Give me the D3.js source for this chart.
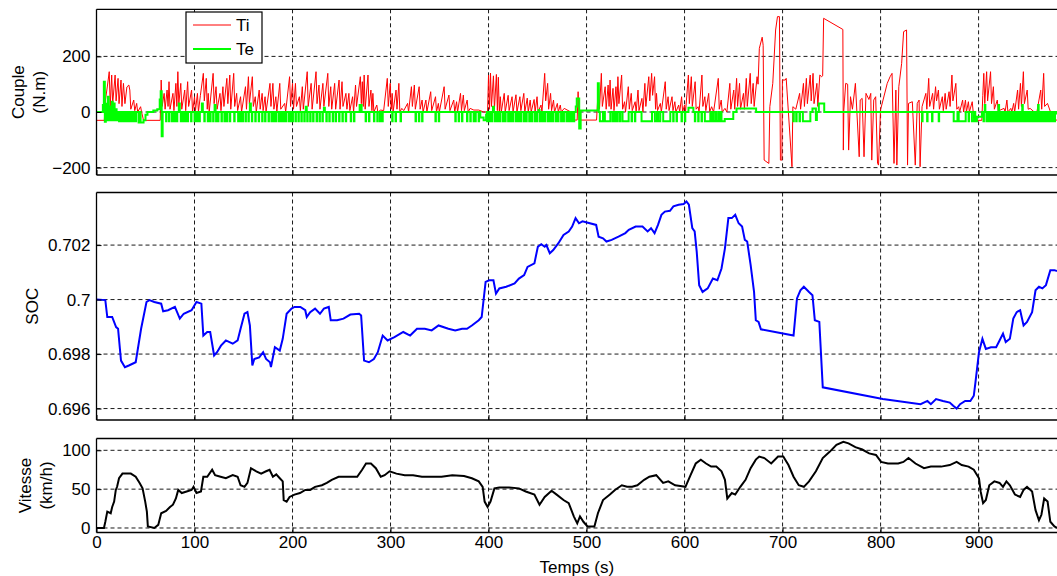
<!DOCTYPE html>
<html><head><meta charset="utf-8">
<script src="https://cdn.jsdelivr.net/npm/d3@7/dist/d3.min.js"></script>
<style>
body{margin:0;background:#fff}
svg{display:block}
text{font-family:"Liberation Sans",Arial,Helvetica,sans-serif;fill:#000}
</style>
</head><body>
<svg id="chart" width="1057" height="576"></svg>
<script>
// ---------------- DATA ----------------
const xTickValues = [0,100,200,300,400,500,600,700,800,900];
const coupleTicks = [-200,0,200];
const socTicks = [0.696,0.698,0.7,0.702];
const speedTicks = [0,50,100];
const legendNames = ["Ti","Te"];

// Ti (N.m) : [time s, torque]
const tiSeries = [[0,-30],[8,-30],[9,40],[11,90],[13,145],[14,20],[15.5,133],[16.5,30],[19,133],[20,40],[22,121],[23,30],[25,115],[26,20],[27.5,103],[29,30],[31,90],[33,97],[34,79],[35,10],[38,43],[39,5],[41,31],[42,0],[45,19],[46,0],[48,-30],[65,-30],[66,115],[67,20],[69,67],[70,10],[72,79],[73,20],[74,109],[75,10],[78,67],[79,5],[81,103],[82,20],[83,145],[84,30],[86,103],[87,10],[90,79],[91,5],[93,109],[94,20],[97,79],[98,0],[100,55],[101,5],[103,67],[104,0],[106,60],[109,139],[110,40],[112,121],[113,10],[114,67],[115,0],[119,139],[120,30],[122,91],[123,10],[126,67],[127,5],[129,91],[130,20],[133,121],[134,30],[136,133],[137,10],[140,139],[141,20],[143,67],[144,5],[147,55],[148,0],[152,91],[153,10],[155,127],[156,30],[159,127],[160,20],[162,55],[163,0],[166,79],[167,10],[169,67],[170,5],[172,55],[173,0],[177,103],[178,20],[180,103],[181,10],[183,55],[184,0],[187,103],[188,10],[192,31],[193,0],[197,127],[198,20],[200,103],[201,10],[203,103],[204,20],[207,55],[208,5],[210,91],[211,10],[215,145],[216,20],[219,103],[220,10],[224,145],[225,30],[227,97],[228,10],[231,103],[232,20],[236,139],[237,20],[239,91],[240,10],[243,103],[244,10],[247.5,115],[248.5,10],[250.5,109],[251.5,20],[254.5,67],[255.5,10],[257.5,67],[258.5,5],[261.3,55],[262.3,0],[264.3,97],[265.3,20],[269.2,127],[270.2,30],[271.2,109],[272.2,20],[273.1,133],[274.1,10],[277,133],[278,20],[280,79],[281,5],[282,67],[283,0],[286,25],[287,0],[290,7],[293,5],[296.7,121],[297.7,20],[299.7,103],[300.7,10],[301.7,67],[302.6,0],[305.6,79],[306.6,10],[308.5,103],[309.5,0],[311.5,13],[313.5,5],[317.4,31],[318.4,0],[321.3,91],[322.3,20],[324.3,97],[325.3,10],[329.2,91],[330.2,10],[332.2,43],[333.2,0],[336.1,43],[337.1,0],[341,73],[342,5],[345.9,55],[346.9,0],[348.8,31],[349.8,0],[354.7,91],[355.7,10],[359.6,61],[360.6,5],[364.5,43],[365.5,0],[367.4,37],[368.4,0],[371.4,67],[372.4,5],[374.3,61],[375.3,5],[378.2,43],[379.2,0],[381.2,13],[385,7],[390,7],[395,0],[399,0],[400,133],[401,10],[402,140],[403,20],[405,130],[406,10],[408,135],[409,5],[410,125],[411,0],[412,55],[413,0],[416,67],[417,0],[420,60],[421,5],[424,55],[425,0],[428,62],[429,0],[432,55],[433,5],[436,67],[437,0],[439.5,50],[440.5,0],[442.5,43],[443.5,0],[446.5,45],[447.5,0],[449.5,55],[450.5,0],[453.5,25],[454.5,0],[457.3,139],[458.3,40],[460.3,103],[461.3,10],[463.3,67],[464.3,5],[466.3,43],[467.3,0],[470.2,31],[471.2,0],[473.2,25],[474.2,0],[477.2,13],[484,0],[487,-29],[490.4,-29],[491.4,73],[492.4,-29],[510.2,-29],[512.2,103],[513.2,10],[515.1,139],[516.1,20],[519,91],[520,10],[522,97],[523,20],[524,115],[525,10],[527,85],[528,5],[530,91],[531,20],[532,127],[533,30],[535.8,133],[536.8,10],[538.8,37],[539.8,0],[542.6,91],[543.6,10],[545.6,67],[546.6,5],[549.6,37],[550.6,0],[552.5,79],[553.5,5],[556.5,49],[557.5,0],[559.5,103],[560.5,20],[563.5,127],[564.5,40],[566.4,139],[567.4,60],[569.4,127],[570.4,10],[571.4,67],[572.4,5],[575.3,31],[576.3,0],[580.3,109],[581.3,10],[583.2,55],[584.2,5],[587.2,55],[588.2,5],[590.1,37],[591.1,0],[594,25],[595,0],[597,55],[598,0],[600,25],[601,0],[603.9,133],[604.9,30],[606.9,127],[607.9,20],[610.8,109],[611.8,10],[613.8,19],[614.8,0],[617.7,133],[618.7,20],[620.7,55],[621.7,5],[624.6,67],[625.6,0],[627.6,19],[629.6,0],[634.4,121],[635.4,10],[637.4,43],[638.4,0],[641.2,13],[643.2,0],[646.2,103],[647.2,10],[650.2,79],[651.2,10],[653.1,121],[654.1,20],[656.1,103],[657.1,10],[660.1,67],[661.1,10],[663,121],[664,20],[667,139],[668,30],[670,103],[671,20],[674,127],[675,100],[676.3,229],[679.2,269],[680.2,240],[681.2,-173],[686,-185],[687,19],[690,103],[692.9,295],[694.8,343],[696.8,343],[697.8,-173],[699.3,-173],[699.8,115],[702.7,115],[703.7,121],[709.6,-197],[710.5,19],[713.5,10],[717.4,67],[718.4,10],[721.3,103],[722.3,20],[724.3,121],[725.3,30],[728.2,133],[729.2,40],[731.1,139],[732.1,30],[735,103],[736,20],[738,133],[739.9,127],[740.9,130],[741.9,337],[761.5,297],[762,-137],[762.5,7],[764.4,103],[766.4,100],[767.4,-137],[769.3,55],[771.3,10],[774.3,103],[778.2,-161],[779.2,43],[781.2,49],[783.1,-161],[785.1,67],[788.1,45],[790,67],[791,-173],[793,43],[795,55],[796.9,-185],[797.9,-191],[799.9,7],[803.8,61],[806.8,103],[809.7,127],[811.7,139],[813.7,-185],[815.6,79],[816.6,-191],[818.6,91],[821.5,175],[823.5,289],[826.5,295],[827.5,-191],[828.5,31],[832.4,37],[835.4,-191],[837.4,31],[839.3,43],[840.3,-197],[842.3,19],[846.2,67],[847.2,10],[849.1,121],[850.1,20],[853.1,67],[854.1,10],[856.1,91],[857.1,40],[859,79],[860,10],[863,55],[864,5],[865.9,67],[866.9,10],[869.9,73],[870.9,20],[872.8,133],[873.8,40],[876.8,103],[877.8,10],[879.7,19],[880.7,0],[883.7,43],[884.7,0],[886.6,43],[887.6,0],[889.6,37],[890.6,0],[893.5,37],[894.5,0],[896.5,1],[897.5,-30],[903.3,-30],[904.3,60],[905.3,139],[906.3,30],[908.2,145],[909.2,40],[912.2,145],[913.2,30],[915.1,91],[916.1,10],[919.1,43],[920.1,0],[922,7],[926,13],[927,0],[928.9,43],[929.9,0],[932.9,13],[933.9,0],[935.8,31],[936.8,0],[939.8,79],[940.8,10],[942.7,103],[943.7,20],[945.7,145],[946.7,30],[949.6,79],[950.6,10],[952.6,13],[956.5,1],[959.5,1],[963.4,79],[964.4,10],[966.4,139],[967.4,20],[970.3,31],[973.3,1],[974.3,-29],[981,-29]];

// Te (N.m): slow component, value holds from each time on
const teSteps = [[0,0],[6.5,25],[7.5,109],[8.5,-35],[9.5,30],[10.5,-30],[11.5,55],[12.5,-30],[13.5,20],[14.5,-30],[15.5,37],[16.5,-30],[17.5,31],[18.5,-30],[19.5,10],[20.5,-30],[21.5,0],[43,-38],[44,0],[45,-38],[48,-30],[50,-10],[52,0],[58,5],[62,10],[64.5,45],[65.5,75],[66.5,-87],[67.5,0],[84,31],[85,0],[107.5,31],[108.5,0],[120.5,25],[121.5,0],[156.5,31],[157.5,0],[213.5,19],[214.5,0],[232,15],[233,0],[268.5,25],[270.5,0],[391.6,-20],[395,-30],[397.5,-10],[398.3,0],[404.5,19],[405.5,0],[451,7],[452,0],[489,20],[490,49],[492.5,-59],[494,5],[511.5,103],[512.5,0],[604,15],[609,0],[641,-25],[649.7,0],[653,13],[673,0],[730.5,13],[734,-29],[735,0],[737,31],[742.5,0],[898.3,-17],[903.4,0],[906.3,25],[906.9,0],[920.3,25],[920.9,0],[944.5,25],[945.1,0],[960.7,25],[961.3,0],[979.5,-5]];
// Te short negative pulses: start times (s), level and duration
const teDipTimes = [23,25.5,28,30.5,33,35.5,38,40,71,74,77,79.5,82,86,88,90.5,93,96.5,100,102.5,105,110,113.5,116,119,122,124,127.5,130.5,133,136,140.5,144.5,147,149,152,155,158.5,162,165.5,169,172,175.5,178.5,181,183,186,188.5,191,193,196,198,200,203,206,209,212,215,218,221,224.5,227.5,230.5,234.5,237.5,241,244,247.5,250.9,254.3,259.4,262.7,274.6,278,283.1,286.5,289.2,291.6,301.7,305.1,310.2,325.5,328.9,332.2,345.8,349.2,366.1,369.5,372.9,378,381.4,384.8,386.5,389.9,398.5,401,403.5,406.5,409,411.5,414.5,417,420,422.5,425,428,430.5,433,436,438.5,441.5,444,447,449.5,452.5,455,457.5,460.5,463,465.5,468.5,471,474,476.5,479.5,482,484.5,487,513.6,516.3,518.7,521.1,523.8,526.5,528.9,531.3,534,536.7,539.1,542.5,545.9,549.3,556.1,561.2,566.3,569.7,571.4,573.1,574.8,578.2,581.6,585,588.4,591.8,596.9,600.3,610.5,613.9,617.3,620.7,624.1,625.8,627.5,629.2,630.9,632.6,634.3,636,637.7,711,713.9,717.3,720.7,724.1,727.9,842.4,847.5,852.5,859.3,874.6,878,879.7,883.1,886.4,889.8,893.2,894.9,896.6,905,908,910,912.5,914.5,917,919,921.5,923.5,926,928,930,932.5,934.5,937,939,941.5,943.5,946,948,950.5,952.5,955,957,959.5,962,964,966.5,968.5,971,973,975.5,977.5];
const teDipLevel = -33;
const teDipDuration = 0.45;

// SOC : [time s, state of charge]
const socSeries = [[0,0.7],[9,0.69998],[11,0.69936],[16,0.69936],[20,0.69899],[22,0.69893],[25,0.69776],[29,0.69752],[33,0.69758],[40,0.6977],[45.5,0.69893],[51,0.69991],[54,0.69998],[59,0.69991],[66,0.69985],[68,0.69957],[73,0.69961],[80,0.69973],[85,0.6993],[89,0.69948],[97,0.69961],[102,0.69991],[107,0.69985],[109,0.69868],[113,0.69881],[116,0.69881],[120,0.69795],[123,0.69807],[127,0.69831],[132,0.6985],[139,0.69838],[144,0.6985],[147,0.69893],[151,0.69948],[154,0.69954],[156.5,0.69905],[159,0.69758],[161,0.69782],[166,0.69788],[170,0.69807],[173,0.69782],[177,0.6977],[178,0.69752],[182,0.69825],[187,0.69813],[190,0.69856],[194,0.69948],[199,0.69967],[202,0.69973],[208,0.69973],[213,0.69961],[214.5,0.69936],[218,0.69954],[223,0.69967],[228,0.69948],[232,0.69967],[237,0.69973],[239,0.69924],[245.5,0.69924],[252,0.6993],[259,0.69945],[268,0.69948],[270,0.69942],[273,0.69776],[278,0.6977],[283,0.69782],[287,0.69807],[292,0.69868],[297,0.6985],[304,0.69862],[313,0.69881],[320,0.69868],[327,0.69893],[335,0.69893],[342,0.69887],[349,0.69905],[359,0.69893],[366,0.69887],[373,0.69893],[378,0.69893],[383,0.69905],[390,0.69924],[393,0.69936],[397,0.70065],[400.7,0.70071],[405,0.70071],[407.6,0.70022],[411,0.70041],[418,0.70047],[426.6,0.70059],[431,0.70077],[436.3,0.7009],[439.8,0.7012],[446.8,0.70133],[450.3,0.70194],[453.8,0.70203],[457.3,0.70194],[459,0.702],[462.5,0.7017],[466,0.70182],[471.3,0.70207],[476.5,0.70237],[481.8,0.7025],[485.3,0.70268],[488.8,0.70299],[492.3,0.7028],[495.8,0.70287],[509.8,0.70274],[512.3,0.70231],[516.8,0.70225],[520.3,0.70213],[525.6,0.70219],[532.6,0.70231],[539.6,0.70244],[543.1,0.70256],[550.1,0.70268],[557.1,0.70268],[562.3,0.7025],[565.8,0.70262],[569.4,0.70244],[572.9,0.70274],[576.4,0.70311],[579.9,0.70323],[585.1,0.70326],[588.6,0.70342],[593.9,0.70348],[599.1,0.70351],[601.9,0.7036],[604.4,0.70348],[607.9,0.70262],[610.3,0.7025],[612.4,0.70176],[614.9,0.70053],[618.4,0.70028],[623.6,0.70041],[628.9,0.70077],[633.5,0.70071],[637.7,0.70114],[641.2,0.70188],[644.7,0.70299],[648.2,0.70299],[651.7,0.70311],[655.2,0.7028],[658.7,0.70268],[661.5,0.70219],[663.9,0.70213],[667.4,0.70127],[670.9,0.70028],[672.7,0.69924],[675.5,0.69918],[677.9,0.69891],[711.2,0.69868],[714.7,0.70004],[718.2,0.70034],[721.7,0.70047],[727,0.70028],[730.5,0.70016],[732.9,0.69924],[737.5,0.69918],[741,0.69678],[802.3,0.69635],[840.8,0.69616],[847.8,0.69628],[851.3,0.69616],[856.6,0.69635],[863.6,0.69628],[870.6,0.69622],[874.1,0.6961],[877.6,0.696],[881.1,0.69616],[886.3,0.69628],[891.6,0.69628],[895.1,0.69647],[896.8,0.69696],[900.4,0.69807],[903.9,0.69856],[907.4,0.69819],[912.6,0.69825],[917.9,0.69825],[921.4,0.6985],[924.9,0.69875],[927.7,0.69844],[931.9,0.69856],[935.4,0.6993],[938.9,0.69954],[942.4,0.69961],[945.9,0.69905],[949.4,0.69918],[954.6,0.69954],[958.1,0.70034],[961.6,0.70047],[965.1,0.70041],[968.7,0.70053],[973.2,0.70108],[977.4,0.70108],[980,0.70105]];

// Vitesse (km/h) : [time s, speed]
const speedSeries = [[0,0],[7.6,0],[9,8],[11,21],[14.5,19],[16,27],[18,34],[19.7,49],[21,53],[23,64],[26.5,70],[31.7,70],[35,70],[40,66],[44,58],[47,51],[49.7,34],[51.4,21],[52.4,2],[59,0],[63,4],[66,19],[71,22],[75,27],[78,30],[81,38],[83.4,49],[87,45],[92,47],[97,49],[99,53],[102,45],[106.6,47],[109,66],[113,66],[118,75],[121,68],[126.6,66],[132,64],[139,68],[144,66],[147,55],[151,53],[154,58],[157.6,77],[163,73],[168,70],[173,73],[176.6,75],[180,66],[183.4,69],[187,64],[190,60],[191,36],[194,34],[197,40],[202,43],[207.6,45],[213,49],[218,49],[223,53],[230,55],[235,58],[240,62],[247,66],[256,66],[266,66],[271,75],[275,83],[280,83],[285,77],[290,66],[294,68],[299,73],[306,70],[314.5,68],[323,68],[332,66],[342,66],[352,66],[363,68],[375,67],[383,64],[390,60],[394,53],[396,34],[399,27],[402,34],[406,51],[411,52],[421,52],[431,51],[438,47],[446.8,43],[452,30],[457.3,40],[464.3,48],[469.5,43],[476.5,36],[481.8,32],[487,15],[490.5,6],[493.3,15],[496.8,8],[501,2],[508,2],[511.6,19],[516.8,36],[523.8,43],[529,49],[536,55],[541.3,53],[546.6,53],[551.8,55],[558.8,62],[564.1,66],[571.1,68],[578.1,58],[583.4,60],[590.4,55],[595.6,54],[600.9,53],[606.1,68],[611.4,83],[616.6,88],[621.9,83],[627.1,79],[632.4,79],[637.7,73],[641.2,62],[643.6,38],[648.2,45],[651.7,43],[656.9,53],[662.2,62],[667.4,77],[672.7,88],[676.2,92],[681.4,90],[688.4,83],[695.4,92],[700.7,92],[706,81],[711.2,66],[716.5,55],[721.7,53],[727,60],[734,73],[741,90],[748,98],[755,107],[762,111],[767.3,109],[774.3,104],[781.3,101],[788.3,96],[795.3,94],[800.5,85],[807.5,83],[812.8,83],[818,83],[823.3,85],[828.5,90],[835.6,83],[844.3,77],[851.3,79],[861.8,79],[870.6,81],[877.6,85],[882.8,81],[889.8,79],[895.1,75],[900.4,64],[902.1,47],[904.6,32],[907.4,36],[910.9,55],[916.1,60],[921.4,58],[924.9,53],[928.4,60],[931.9,55],[937.1,43],[942.4,40],[945.9,49],[949.4,53],[954.6,47],[958.1,23],[961.6,10],[964.1,17],[966.9,38],[970.4,34],[973.2,8],[977.4,2],[980,0]];

// ---------------- LAYOUT ----------------
const svg = d3.select("#chart");
const X0 = 96.5, X1 = 1057;
const x = d3.scaleLinear().domain([0, 980]).range([X0, X1]);
const FONT = 17;

const panels = [
  {id:"p1", top:9.3, bottom:175, domain:[-226.6,369.4], ticks:coupleTicks, fmt:d3.format("d"),
   labels:[{t:"Couple",x:24},{t:"(N.m)",x:45}]},
  {id:"p2", top:192.5, bottom:420, domain:[0.69558,0.70393], ticks:socTicks, fmt:d=>String(+d.toFixed(3)),
   labels:[{t:"SOC",x:38}]},
  {id:"p3", top:438.5, bottom:532.5, domain:[-5.8,115.2], ticks:speedTicks, fmt:d3.format("d"),
   labels:[{t:"Vitesse",x:31},{t:"(km/h)",x:52}]}
];

panels.forEach(p=>{
  p.y = d3.scaleLinear().domain(p.domain).range([p.bottom, p.top]);
  const g = svg.append("g");
  svg.append("clipPath").attr("id","clip-"+p.id).append("rect")
    .attr("x",X0).attr("y",p.top).attr("width",X1-X0+2).attr("height",p.bottom-p.top);
  const grid = g.append("g").attr("stroke","#000").attr("stroke-width",0.9).attr("stroke-dasharray","4,3");
  xTickValues.filter(v=>v>0).forEach(v=>{
    grid.append("line").attr("x1",x(v)).attr("x2",x(v)).attr("y1",p.top).attr("y2",p.bottom);
  });
  p.ticks.forEach(v=>{
    grid.append("line").attr("x1",X0).attr("x2",X1+2).attr("y1",p.y(v)).attr("y2",p.y(v));
  });
  p.plot = g.append("g").attr("clip-path","url(#clip-"+p.id+")");
});

// ---------------- SERIES ----------------
const p1 = panels[0], p2 = panels[1], p3 = panels[2];

p1.plot.append("path").datum(tiSeries)
  .attr("fill","none").attr("stroke","#ff0000").attr("stroke-width",1)
  .attr("d", d3.line().x(d=>x(d[0])).y(d=>p1.y(d[1])));

function teBase(t){
  let v = teSteps[0][1];
  for (const s of teSteps){ if (s[0] <= t) v = s[1]; else break; }
  return v;
}
function inDip(t){ return teDipTimes.some(d => t >= d && t < d + teDipDuration); }
const teTimesAll = Array.from(new Set(teSteps.map(s=>s[0])
  .concat(teDipTimes, teDipTimes.map(d=>+(d+teDipDuration).toFixed(3))))).sort((a,b)=>a-b);
const teSeries = teTimesAll.map(t => [t, inDip(t) ? teDipLevel : teBase(t)]);
teSeries.push([981, teSeries[teSeries.length-1][1]]);
p1.plot.append("path").datum(teSeries)
  .attr("fill","none").attr("stroke","#00ff00").attr("stroke-width",2)
  .attr("d", d3.line().curve(d3.curveStepAfter).x(d=>x(d[0])).y(d=>p1.y(d[1])));

p2.plot.append("path").datum(socSeries)
  .attr("fill","none").attr("stroke","#0000ff").attr("stroke-width",2)
  .attr("d", d3.line().x(d=>x(d[0])).y(d=>p2.y(d[1])));

p3.plot.append("path").datum(speedSeries)
  .attr("fill","none").attr("stroke","#000").attr("stroke-width",2)
  .attr("d", d3.line().x(d=>x(d[0])).y(d=>p3.y(d[1])));

// ---------------- AXES / FRAMES ----------------
panels.forEach((p,i)=>{
  const ax = svg.append("g").attr("transform",`translate(${X0},0)`)
    .call(d3.axisLeft(p.y).tickValues(p.ticks).tickFormat(p.fmt).tickSize(-5).tickPadding(6));
  ax.select(".domain").remove();
  ax.selectAll("text").attr("font-size",FONT).attr("font-family",'"Liberation Sans",Arial,sans-serif').attr("fill","#000");
  ax.selectAll("line").attr("stroke","#000");
  const bx = svg.append("g").attr("transform",`translate(0,${p.bottom})`)
    .call(d3.axisBottom(x).tickValues(xTickValues).tickSize(-5).tickPadding(3).tickFormat(i===2?d3.format("d"):""));
  bx.select(".domain").remove();
  bx.selectAll("text").attr("font-size",FONT).attr("font-family",'"Liberation Sans",Arial,sans-serif').attr("fill","#000");
  bx.selectAll("line").attr("stroke","#000");
  const fr = svg.append("g").attr("stroke","#000").attr("stroke-width",1.3).attr("fill","none");
  fr.append("line").attr("x1",X0).attr("x2",X1+2).attr("y1",p.top).attr("y2",p.top);
  fr.append("line").attr("x1",X0).attr("x2",X1+2).attr("y1",p.bottom).attr("y2",p.bottom);
  fr.append("line").attr("x1",X0).attr("x2",X0).attr("y1",p.top).attr("y2",p.bottom);
  const cy = (p.top + p.bottom)/2;
  p.labels.forEach(l=>{
    svg.append("text").attr("transform",`translate(${l.x},${cy}) rotate(-90)`)
      .attr("text-anchor","middle").attr("font-size",FONT).text(l.t);
  });
});

svg.append("text").attr("x",(X0+X1)/2).attr("y",573).attr("text-anchor","middle")
  .attr("font-size",FONT).text("Temps (s)");

// ---------------- LEGEND ----------------
const lg = svg.append("g");
lg.append("rect").attr("x",186).attr("y",12).attr("width",76).attr("height",51)
  .attr("fill","#fff").attr("stroke","#000").attr("stroke-width",1.2);
const legendStyles = [{c:"#ff0000",w:1,y:25},{c:"#00ff00",w:2,y:49}];
legendNames.forEach((n,i)=>{
  const s = legendStyles[i];
  lg.append("line").attr("x1",193).attr("x2",231).attr("y1",s.y).attr("y2",s.y)
    .attr("stroke",s.c).attr("stroke-width",s.w);
  lg.append("text").attr("x",236).attr("y",s.y+6).attr("font-size",FONT).text(n);
});
</script>
</body></html>
